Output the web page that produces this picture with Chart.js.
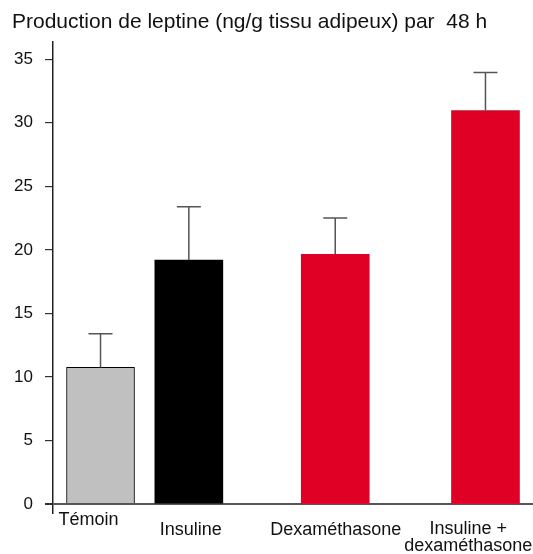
<!DOCTYPE html>
<html>
<head>
<meta charset="utf-8">
<script src="https://cdn.jsdelivr.net/npm/chart.js@4.4.1/dist/chart.umd.min.js"></script>
<style>
  html, body { margin: 0; padding: 0; background: #fff; }
  canvas { display: block; }
</style>
</head>
<body>
<canvas id="leptineChart" width="533" height="554"></canvas>
<script>
// Values
const categories = ['Témoin', 'Insuline', 'Dexaméthasone', ['Insuline +', 'dexaméthasone']];
const leptine = [10.75, 19.2, 19.65, 30.95];
const erreurs = [2.65, 4.2, 2.85, 3.0];
const yTicks = [0, 5, 10, 15, 20, 25, 30, 35];

// where each bar / label sits along the (unlabelled) x axis
const barSlots = [0.99, 2.83, 5.88, 9.01];
const labelSlots = [0.74, 2.87, 5.89, 8.65];
const labelDrop = [0, 10, 10, 9];

const barColors = ['#c0c0c0', '#000000', '#e00025', '#e00025'];
const barBorders = ['#000000', '#000000', '#e00025', '#e00025'];
const FONT = '"Liberation Sans", Arial, sans-serif';

// error bars (upper whisker only)
const errorBars = {
    id: 'errorBars',
    afterDatasetsDraw(chart) {
        const ctx = chart.ctx;
        const x = chart.scales.x, y = chart.scales.y;
        ctx.save();
        ctx.strokeStyle = '#555';
        ctx.lineWidth = 1.5;
        leptine.forEach(function(v, i) {
            const px = x.getPixelForValue(barSlots[i]);
            const top = y.getPixelForValue(v + erreurs[i]);
            const base = y.getPixelForValue(v);
            ctx.beginPath();
            ctx.moveTo(px, base);
            ctx.lineTo(px, top);
            ctx.moveTo(px - 12, top);
            ctx.lineTo(px + 12, top);
            ctx.stroke();
        });
        ctx.restore();
    }
};

// category names under the bars
const categoryLabels = {
    id: 'categoryLabels',
    afterDraw(chart) {
        const ctx = chart.ctx;
        const x = chart.scales.x;
        const bottom = chart.chartArea.bottom;
        ctx.save();
        ctx.fillStyle = '#111';
        ctx.font = '18px ' + FONT;
        ctx.textAlign = 'center';
        ctx.textBaseline = 'middle';
        categories.forEach(function(lab, i) {
            const lines = Array.isArray(lab) ? lab : [lab];
            const px = x.getPixelForValue(labelSlots[i]);
            lines.forEach(function(line, j) {
                ctx.fillText(line, px, bottom + 7 + labelDrop[i] + j * 17);
            });
        });
        ctx.restore();
    }
};

new Chart(document.getElementById('leptineChart'), {
    type: 'bar',
    data: {
        datasets: [{
            data: leptine.map(function(v, i) { return { x: barSlots[i], y: v }; }),
            backgroundColor: barColors,
            borderColor: barBorders,
            borderWidth: [1, 0, 0, 0],
            barThickness: 68
        }]
    },
    options: {
        responsive: false,
        animation: false,
        layout: { padding: { left: 12, right: 0, bottom: 41, top: 0 } },
        plugins: {
            legend: { display: false },
            tooltip: { enabled: false },
            title: {
                display: true,
                text: 'Production de leptine (ng/g tissu adipeux) par  48 h',
                align: 'start',
                color: '#111',
                font: { family: FONT, size: 21, weight: 'normal' },
                padding: { top: 9.5, bottom: 7.3 }
            }
        },
        scales: {
            x: {
                type: 'linear',
                min: 0,
                max: 10,
                offset: false,
                display: false
            },
            y: {
                min: -0.7,
                max: 36.35,
                afterBuildTicks: function(scale) {
                    scale.ticks = yTicks.map(function(v) { return { value: v }; });
                },
                afterFit: function(scale) { scale.width = 41; },
                border: { display: true, color: '#222', width: 1.5 },
                grid: {
                    drawOnChartArea: true,
                    tickLength: 8,
                    tickColor: '#333',
                    color: function(c) { return c.tick && c.tick.value === 0 ? '#555' : 'rgba(0,0,0,0)'; },
                    lineWidth: function(c) { return c.tick && c.tick.value === 0 ? 2 : 1.2; }
                },
                ticks: {
                    padding: 12,
                    color: '#111',
                    font: { family: FONT, size: 17 }
                }
            }
        }
    },
    plugins: [errorBars, categoryLabels]
});
</script>
</body>
</html>
